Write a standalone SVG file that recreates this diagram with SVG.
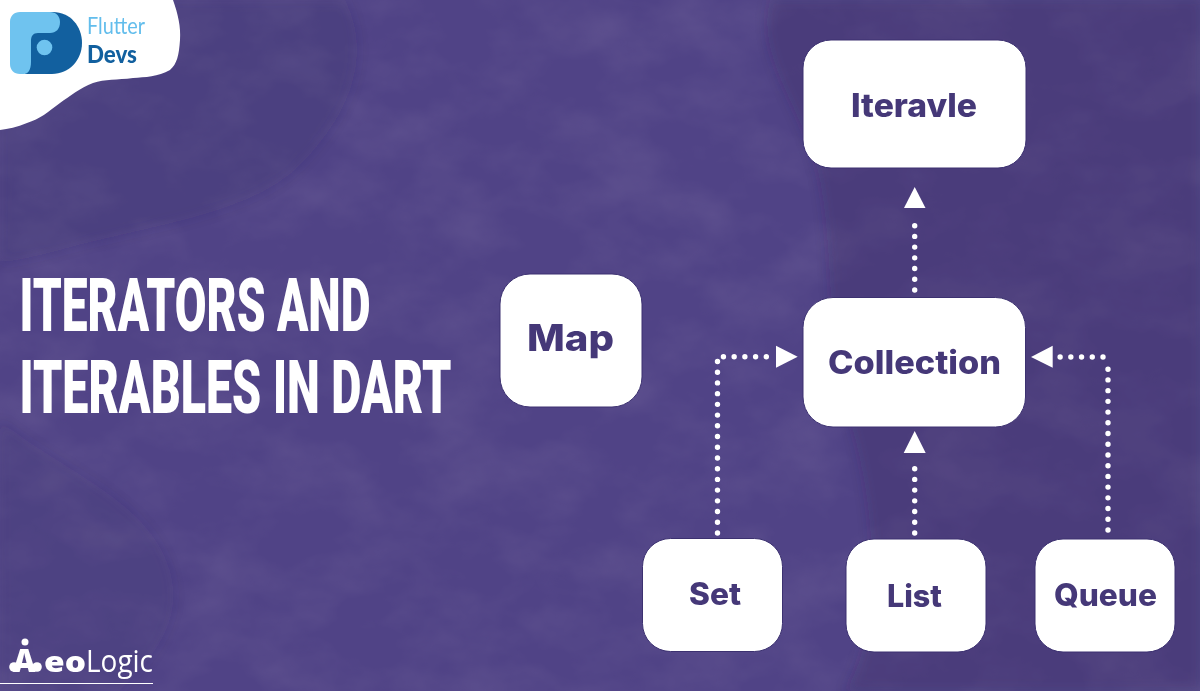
<svg xmlns="http://www.w3.org/2000/svg" width="1200" height="691" viewBox="0 0 1200 691">
<style>
.node{fill:#fff;stroke:#3c3170;stroke-width:1}
.lbl{font-family:"Inter","Liberation Sans",sans-serif;font-weight:800;fill:#453878;text-anchor:start}
.title{font-family:"Roboto","Liberation Sans",sans-serif;font-weight:900;font-size:75px;fill:#fff}
.dots{fill:none;stroke:#fff;stroke-width:5.4;stroke-linecap:round;stroke-dasharray:0 10.72}
.arrow{fill:#fff}
.shade{fill:#2f2558}
</style>
<defs>
<filter id="soft" x="-10%" y="-10%" width="120%" height="120%"><feGaussianBlur stdDeviation="6"/></filter>
<filter id="crumple" x="0" y="0" width="100%" height="100%">
<feTurbulence type="fractalNoise" baseFrequency="0.012 0.018" numOctaves="4" seed="7"/>
<feColorMatrix type="matrix" values="0 0 0 0 .17  0 0 0 0 .13  0 0 0 0 .33  1.6 0 0 0 -.62"/>
</filter>
</defs>
<rect width="1200" height="691" fill="#504386"/>
<g id="background">
<rect width="1200" height="691" filter="url(#crumple)" opacity=".45"/>
<g filter="url(#soft)">
<path class="shade" opacity=".15" d="M0 0H345C375 60 345 120 300 165C250 215 150 225 60 250C30 258 10 262 0 262Z"/>
<path class="shade" opacity=".22" d="M770 0H1200V691H845C880 640 880 520 850 420C825 340 835 260 820 180C805 110 755 60 770 0Z"/>
<path class="shade" opacity=".1" d="M0 420C60 470 150 500 170 570C185 625 150 660 120 691H0Z"/>
</g>
</g>
<g id="connectors">
<path class="dots" d="M914.7 290V216"/>
<path class="dots" d="M717.5 533V356.7H771"/>
<path class="dots" d="M914.7 533V458"/>
<path class="dots" d="M1108 530V368"/>
<path class="dots" d="M1103 357H1058"/>
<polygon class="arrow" points="914.7,187 925.5,208 904,208"/>
<polygon class="arrow" points="797.7,356.7 776,345.7 776,367.7"/>
<polygon class="arrow" points="914.7,431 925.7,453 903.7,453"/>
<polygon class="arrow" points="1031,357 1052.7,345.7 1052.7,367.7"/>
</g>
<g id="flutterdevs-logo">
<path fill="#fff" d="M0 0H173C178 14 181 27 180 40C179 55 177 64 170 70C158 77 145 77 133 78C117 80 105 79 93 83C80 88 70 96 60 103C48 112 40 119 27 123C17 127 8 129 0 130Z"/>
<path fill="#12609f" d="M50 12H53C70 12 82 26 82 43C82 60 69 74 52 74H25L30 30Z"/>
<path fill="#6fc3ef" d="M20 12H50C56 12 60 16 60 22C60 29 56 33 50 33H38C33 33 31 36 31 41V62C31 70 28 74 24 74H20C14 74 10 70 10 64V22C10 16 14 12 20 12Z"/>
<circle cx="44.500" cy="47.500" r="7.800" fill="#6fc3ef"/>
<text x="87" y="34" font-family="Lato,'Open Sans',sans-serif" font-weight="400" font-size="24" fill="#62bdec" textLength="58" lengthAdjust="spacingAndGlyphs">Flutter</text>
<text x="87" y="63" font-family="Lato,'Open Sans',sans-serif" font-weight="900" font-size="24" fill="#12609f" textLength="50" lengthAdjust="spacingAndGlyphs">Devs</text>
</g>
<g id="aeologic-logo">
<circle cx="25" cy="642" r="3.500" fill="#fff"/>
<circle cx="14" cy="667" r="4.800" fill="#fff"/>
<circle cx="37" cy="667" r="4.800" fill="#fff"/>
<text x="13" y="671.500" font-family="'Open Sans',sans-serif" font-size="31" font-weight="800" fill="#fff">A</text>
<text x="44" y="671.500" font-family="'Open Sans',sans-serif" font-size="29" font-weight="800" fill="#fff" textLength="42" lengthAdjust="spacingAndGlyphs">eo</text>
<text x="86" y="671.500" font-family="'Open Sans',sans-serif" font-size="31" font-weight="400" fill="#fff" textLength="67" lengthAdjust="spacingAndGlyphs">Logic</text>
<path d="M0 683.500H153" stroke="#fff" stroke-width="1"/>
</g>
<g id="title">
<text class="title" transform="translate(19.500 331) scale(.6 1)" textLength="585" lengthAdjust="spacingAndGlyphs">ITERATORS AND</text>
<text class="title" transform="translate(19.500 413) scale(.6 1)" textLength="720" lengthAdjust="spacingAndGlyphs">ITERABLES IN DART</text>
</g>
<g id="node-iteravle"><rect class="node" x="803" y="40" width="223" height="128" rx="28"/><text class="lbl" x="851" y="117" font-size="32" textLength="126" lengthAdjust="spacingAndGlyphs">Iteravle</text></g>
<g id="node-collection"><rect class="node" x="803" y="297.500" width="222.500" height="129.500" rx="30"/><text class="lbl" x="828" y="374" font-size="32" textLength="173" lengthAdjust="spacingAndGlyphs">Collection</text></g>
<g id="node-map"><rect class="node" x="500" y="274" width="142" height="133" rx="30"/><text class="lbl" x="527" y="351" font-size="37" textLength="87" lengthAdjust="spacingAndGlyphs">Map</text></g>
<g id="node-set"><rect class="node" x="642.500" y="538.500" width="140" height="113" rx="28"/><text class="lbl" x="689" y="605" font-size="31" textLength="52" lengthAdjust="spacingAndGlyphs">Set</text></g>
<g id="node-list"><rect class="node" x="846" y="539" width="140" height="113" rx="28"/><text class="lbl" x="887" y="607" font-size="31" textLength="55" lengthAdjust="spacingAndGlyphs">List</text></g>
<g id="node-queue"><rect class="node" x="1035" y="539" width="140" height="113" rx="28"/><text class="lbl" x="1054" y="606" font-size="31" textLength="103" lengthAdjust="spacingAndGlyphs">Queue</text></g>
</svg>
